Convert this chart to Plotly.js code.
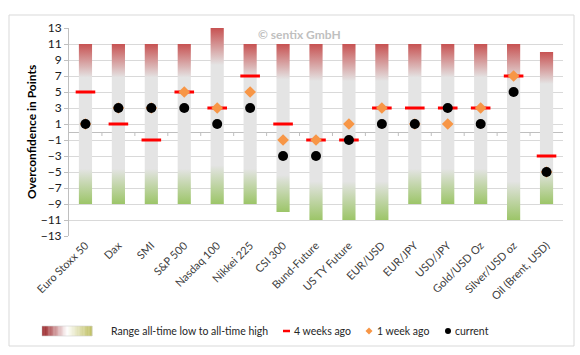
<!DOCTYPE html>
<html>
<head>
<meta charset="utf-8">
<script src="https://cdn.plot.ly/plotly-3.0.1.min.js"></script>
<style>html,body{margin:0;padding:0;background:#fff;}#chart{width:580px;height:355px;}</style>
</head>
<body>
<div id="chart"></div>
<script>
const categories = ["Euro Stoxx 50","Dax","SMI","S&P 500","Nasdaq 100","Nikkei 225","CSI 300","Bund-Future","US TY Future","EUR/USD","EUR/JPY","USD/JPY","Gold/USD Oz","Silver/USD oz","Oil (Brent, USD)"];
const rangeLow  = [-9,-9,-9,-9,-9,-9,-10,-11,-11,-11,-9,-9,-9,-11,-9];
const rangeHigh = [11,11,11,11,13,11,11,11,11,11,11,11,11,11,10];
const fourWeeksAgo = [5,1,-1,5,3,7,1,-1,-1,3,3,3,3,7,-3];
const oneWeekAgo   = [1,3,3,5,3,5,-1,-1,1,3,1,1,3,7,-5];
const current      = [1,3,3,3,1,3,-3,-3,-1,1,1,3,1,5,-5];
const yTicks = [-13,-11,-9,-7,-5,-3,-1,1,3,5,7,9,11,13];

const FONT = "Lato, 'Open Sans', sans-serif";
const W = 580, H = 355, ML = 69, MR = 17, MT = 28, MB = 119;
const PW = W - ML - MR, PH = H - MT - MB;
const px = v => (v - ML) / PW;
const py = v => (H - MB - v) / PH;

const idx = categories.map((_, i) => i);
const halfW = 0.2;
const traces = [];
idx.forEach(i => {
  traces.push({
    type: 'scatter', mode: 'lines', fill: 'toself', hoverinfo: 'skip', showlegend: false,
    x: [i - halfW, i + halfW, i + halfW, i - halfW, i - halfW],
    y: [rangeLow[i], rangeLow[i], rangeHigh[i], rangeHigh[i], rangeLow[i]],
    line: {width: 0, color: 'rgba(0,0,0,0)'},
    fillgradient: {type: 'vertical', colorscale: [[0,'#9cc568'],[0.22,'#e4e4e4'],[0.79,'#e4e4e4'],[1,'#c75252']]}
  });
});
traces.push({type:'scatter', mode:'markers', x: idx, y: fourWeeksAgo, showlegend:false,
  marker:{symbol:'line-ew', size:14, line:{width:3, color:'#ff0000'}}});
traces.push({type:'scatter', mode:'markers', x: idx, y: oneWeekAgo, showlegend:false,
  marker:{symbol:'diamond', size:9, color:'#f79646', line:{width:0}}});
traces.push({type:'scatter', mode:'markers', x: idx, y: current, showlegend:false,
  marker:{symbol:'circle', size:10, color:'#000000', line:{width:0}}});

const shapes = [];
// outer frame
shapes.push({type:'rect', xref:'paper', yref:'paper', x0:px(9), x1:px(574), y0:py(346), y1:py(15), line:{color:'#d9d9d9', width:1}, layer:'below'});
// category boundary ticks on the zero line
for (let i = 0; i < categories.length - 1; i++) {
  shapes.push({type:'line', xref:'x', yref:'y', x0:i+0.5, x1:i+0.5, ysizemode:'pixel', yanchor:0, y0:0, y1:-4, line:{color:'#bfbfbf', width:1}});
}
// legend gradient swatch
const gx0 = 42, gx1 = 92, gy0 = 326, gy1 = 336, nSteps = 40;
function lerp(a,b,t){return a.map((v,k)=>Math.round(v+(b[k]-v)*t));}
const cL = [150,28,32], cM = [255,255,255], cR = [190,190,95];
for (let s = 0; s < nSteps; s++) {
  const t = (s + 0.5) / nSteps;
  const c = t < 0.5 ? lerp(cL, cM, t / 0.5) : lerp(cM, cR, (t - 0.5) / 0.5);
  const xa = gx0 + (gx1 - gx0) * s / nSteps, xb = gx0 + (gx1 - gx0) * (s + 1) / nSteps + 0.3;
  shapes.push({type:'rect', xref:'paper', yref:'paper', x0:px(xa), x1:px(xb), y0:py(gy1), y1:py(gy0), line:{width:0}, fillcolor:`rgb(${c.join(',')})`});
}
shapes.push({type:'rect', xref:'paper', yref:'paper', x0:px(gx0), x1:px(gx1), y0:py(gy1), y1:py(gy0), line:{width:0.6, color:'#d0d0d0'}, fillcolor:'rgba(0,0,0,0)'});
// legend red dash
shapes.push({type:'line', xref:'paper', yref:'paper', x0:px(283), x1:px(290), y0:py(331), y1:py(331), line:{color:'#ff0000', width:2.5}});
// legend orange diamond
const dx = 369, dy = 331, dr = 3.5;
shapes.push({type:'path', xref:'paper', yref:'paper', path:`M ${px(dx)} ${py(dy-dr)} L ${px(dx+dr)} ${py(dy)} L ${px(dx)} ${py(dy+dr)} L ${px(dx-dr)} ${py(dy)} Z`, fillcolor:'#f79646', line:{width:0}});
// legend black dot
shapes.push({type:'circle', xref:'paper', yref:'paper', x0:px(445), x1:px(451), y0:py(334), y1:py(328), fillcolor:'#000', line:{width:0}});

const legFont = {family: FONT, size: 10.5, color: '#262626'};
const annotations = [
  {xref:'paper', yref:'paper', x:px(299), y:py(34), text:'© sentix GmbH', showarrow:false, font:{family:FONT, size:12, color:'#bfbfbf', weight:'bold'}, xanchor:'center', yanchor:'middle'},
  {xref:'paper', yref:'paper', x:px(31), y:py(132), text:'<b>Overconfidence in Points</b>', showarrow:false, textangle:-90, font:{family:FONT, size:12, color:'#000'}, xanchor:'center', yanchor:'middle'},
  {xref:'paper', yref:'paper', x:px(109), y:py(331), text:'Range all-time low to all-time high', showarrow:false, font:legFont, xanchor:'left', yanchor:'middle'},
  {xref:'paper', yref:'paper', x:px(292), y:py(331), text:'4 weeks ago', showarrow:false, font:legFont, xanchor:'left', yanchor:'middle'},
  {xref:'paper', yref:'paper', x:px(375), y:py(331), text:'1 week ago', showarrow:false, font:legFont, xanchor:'left', yanchor:'middle'},
  {xref:'paper', yref:'paper', x:px(453), y:py(331), text:'current', showarrow:false, font:legFont, xanchor:'left', yanchor:'middle'}
];

const layout = {
  width: W, height: H,
  margin: {l: ML, r: MR, t: MT, b: MB, pad: 0},
  paper_bgcolor: '#fff', plot_bgcolor: '#fff',
  showlegend: false,
  xaxis: {range: [-0.5, categories.length - 0.5], tickvals: idx, ticktext: categories, tickangle: -45,
    showgrid: false, zeroline: false, showline: false, ticks: '', fixedrange: true,
    tickfont: {family: FONT, size: 11, color: '#404040'}},
  yaxis: {range: [-13, 13], tickvals: yTicks, showgrid: true, gridcolor: '#d9d9d9', gridwidth: 1,
    zeroline: true, zerolinecolor: '#bfbfbf', zerolinewidth: 1,
    showline: true, linecolor: '#bfbfbf', ticks: 'outside', ticklen: 4, tickcolor: '#bfbfbf',
    tickfont: {family: FONT, size: 12, color: '#1a1a1a'}, fixedrange: true},
  shapes: shapes,
  annotations: annotations
};

Plotly.newPlot('chart', traces, layout, {displayModeBar: false, staticPlot: true});
</script>
</body>
</html>
